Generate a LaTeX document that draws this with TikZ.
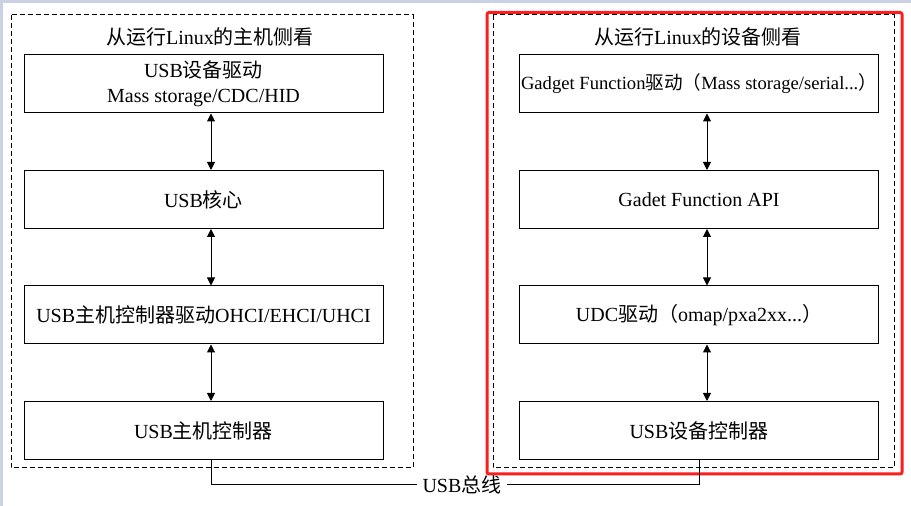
\documentclass[tikz,border=0pt]{standalone}
\usepackage{fontspec}
\setmainfont{Liberation Serif}
\newfontfamily\cjk{Noto Sans CJK SC}
\usetikzlibrary{positioning,arrows.meta}
\tikzstyle{layer}=[draw, line width=0.5pt, minimum width=179.5pt,
    minimum height=29pt, inner sep=0pt, align=center,
    font=\fontsize{10}{12.5}\selectfont]
\tikzstyle{side}=[draw, dash pattern=on 2.5pt off 1.5pt, line width=0.5pt]
\tikzstyle{head}=[font=\fontsize{10}{12}\selectfont]
\tikzstyle{link}=[{Triangle[length=4pt,width=4pt]}-{Triangle[length=4pt,width=4pt]},
    line width=0.5pt]
\definecolor{hilite}{RGB}{250,30,30}
\definecolor{edge}{RGB}{200,210,228}

\begin{document}
\begin{tikzpicture}[x=0.5pt, y=-0.5pt, node distance=28.25pt]
    \useasboundingbox (0,0) rectangle (911,506);
    \fill[white] (0,0) rectangle (911,506);
    \fill[edge] (0,0) rectangle (911,3);
    \fill[edge] (0,0) rectangle (3,506);
    % host side
    \draw[side] (11,15) rectangle (413,468);
    \node (hosthead) [head] at (210,37) {{\cjk 从运行}Linux{\cjk 的主机侧看}};
    \node (hostdrv) [layer] at (203.5,84) {USB{\cjk 设备驱动}\\Mass storage/CDC/HID};
    \node (hostcore) [layer, below=of hostdrv] {USB{\cjk 核心}};
    \node (hcd) [layer, below=of hostcore] {USB{\cjk 主机控制器驱动}OHCI/EHCI/UHCI};
    \node (hostctl) [layer, below=of hcd] {USB{\cjk 主机控制器}};
    \draw [link] ([xshift=3.75pt]hostdrv.south) -- ([xshift=3.75pt]hostcore.north);
    \draw [link] ([xshift=3.75pt]hostcore.south) -- ([xshift=3.75pt]hcd.north);
    \draw [link] ([xshift=3.75pt]hcd.south) -- ([xshift=3.75pt]hostctl.north);
    % device side
    \draw[hilite, line width=1.5pt, rounded corners=1pt] (487,12.5) rectangle (902,474);
    \draw[side] (493,15) rectangle (894,468);
    \node (devhead) [head] at (698,37) {{\cjk 从运行}Linux{\cjk 的设备侧看}};
    \node (gadget) [layer, font=\fontsize{9.3}{12}\selectfont] at (699,84) {Gadget Function{\cjk 驱动（}Mass storage/serial...{\cjk ）}};
    \node (gadgetapi) [layer, below=of gadget] {Gadet Function API};
    \node (udc) [layer, below=of gadgetapi] {UDC{\cjk 驱动（}omap/pxa2xx...{\cjk ）}};
    \node (devctl) [layer, below=of udc] {USB{\cjk 设备控制器}};
    \draw [link] ([xshift=4pt]gadget.south) -- ([xshift=4pt]gadgetapi.north);
    \draw [link] ([xshift=4pt]gadgetapi.south) -- ([xshift=4pt]udc.north);
    \draw [link] ([xshift=4pt]udc.south) -- ([xshift=4pt]devctl.north);
    % bus
    \node (bus) [font=\fontsize{10}{12}\selectfont, inner xsep=2.75pt] at (462,485) {USB{\cjk 总线}};
    \draw [line width=0.5pt] ([xshift=3.75pt]hostctl.south) |- (bus.west);
    \draw [line width=0.5pt] (bus.east) -| (devctl.south);
\end{tikzpicture}
\end{document}
